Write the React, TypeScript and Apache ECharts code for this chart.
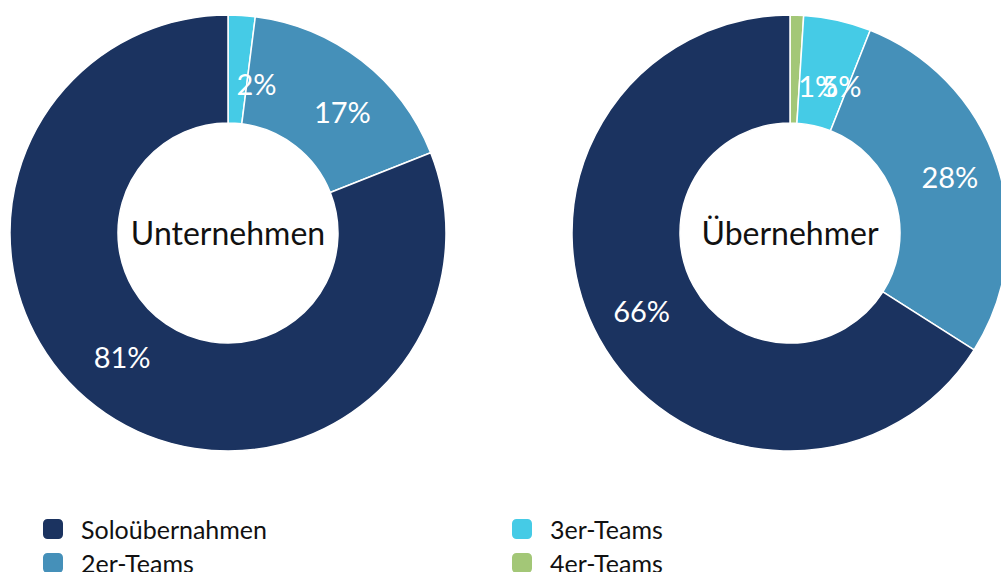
import React, { useEffect, useRef } from "react";
import * as echarts from "echarts";

const categories = ["Soloübernahmen", "2er-Teams", "3er-Teams", "4er-Teams"];
const colors = ["#1b3360", "#4590b9", "#45cbe6", "#a3c777"];
const unternehmenValues = [81, 17, 2, 0];
const uebernehmerValues = [66, 28, 5, 1];
const centerLabels = ["Unternehmen", "Übernehmer"];

// label nudges (pixels) per chart, per category, to mimic the reference placement
const labelNudges = [
  [[-12, -15], [12, 10], [18, 17], [0, 0]],
  [[-2, -3], [1, -5], [15, 15], [23, 19]],
];

const FONT = "Lato, 'Open Sans', sans-serif";

function buildData(values: number[], nudges: number[][]) {
  // clockwise from top: smallest teams first
  const order = [3, 2, 1, 0];
  return order
    .filter((i) => values[i] > 0)
    .map((i) => ({
      name: categories[i],
      value: values[i],
      itemStyle: { color: colors[i] },
      label: { offset: nudges[i] },
    }));
}

export default function App() {
  const ref = useRef<HTMLDivElement>(null);
  useEffect(() => {
    if (!ref.current) return;
    const chart = echarts.init(ref.current, undefined, { renderer: "svg" });
    const centers = [
      [228, 233],
      [790, 233],
    ];
    const seriesBase = (values: number[], c: number[], nudges: number[][]) => ({
      type: "pie",
      center: c,
      radius: [110, 218],
      startAngle: 90,
      clockwise: true,
      avoidLabelOverlap: false,
      minShowLabelAngle: 0,
      labelLayout: { hideOverlap: false },
      itemStyle: { borderColor: "#ffffff", borderWidth: 1.5 },
      label: {
        show: true,
        position: "inside",
        formatter: "{c}%",
        color: "#ffffff",
        fontSize: 29,
        fontFamily: FONT,
      },
      labelLine: { show: false },
      emphasis: { disabled: true },
      data: buildData(values, nudges),
    });
    const legendPos = [
      { left: 41, top: 516 },
      { left: 41, top: 550 },
      { left: 510, top: 516 },
      { left: 510, top: 550 },
    ];
    chart.setOption({
      animation: false,
      color: colors,
      legend: categories.map((name, i) => ({
        orient: "horizontal",
        left: legendPos[i].left,
        top: legendPos[i].top,
        padding: 0,
        itemWidth: 22,
        itemHeight: 22,
        icon: "roundRect",
        selectedMode: false,
        textStyle: {
          fontSize: 25,
          lineHeight: 22,
          fontFamily: FONT,
          color: "#111111",
          padding: [0, 0, 4, 12],
        },
        data: [name],
      })),
      graphic: centers.map((c, i) => ({
        type: "text",
        x: c[0],
        y: c[1] - 1,
        style: {
          text: centerLabels[i],
          fontSize: 32,
          fontFamily: FONT,
          fill: "#111111",
          textAlign: "center",
          textVerticalAlign: "middle",
        },
      })),
      series: [
        seriesBase(unternehmenValues, centers[0], labelNudges[0]),
        seriesBase(uebernehmerValues, centers[1], labelNudges[1]),
      ],
    });
    return () => chart.dispose();
  }, []);
  return (
    <div
      ref={ref}
      style={{ position: "fixed", left: 0, top: 0, width: 1001, height: 572, background: "#ffffff" }}
    />
  );
}
